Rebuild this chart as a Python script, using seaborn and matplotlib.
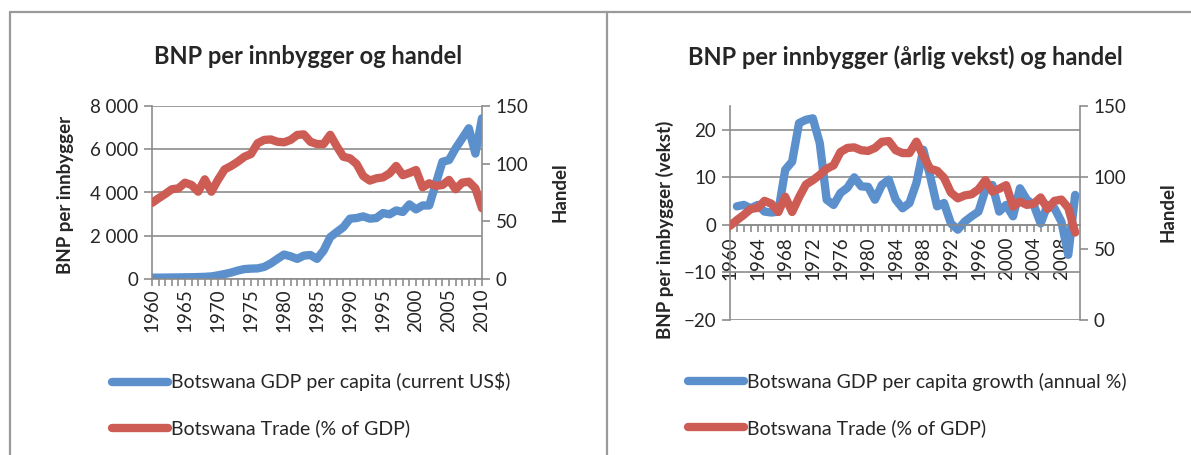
import numpy as np
import matplotlib
matplotlib.use('Agg')
import matplotlib.pyplot as plt
import seaborn as sns
from matplotlib.ticker import FuncFormatter, MultipleLocator
from matplotlib.lines import Line2D

# data
years = list(range(1960, 2011))

gdp_pc = [60, 62, 66, 70, 72, 78, 82, 90, 100, 120,
          170, 230, 300, 390, 460, 480, 490, 560, 720, 930,
          1130, 1050, 930, 1080, 1110, 930, 1315, 1935, 2170, 2400,
          2790, 2820, 2895, 2790, 2820, 3050, 2990, 3170, 3100, 3450,
          3220, 3400, 3400, 4410, 5420, 5500, 6040, 6500, 6970, 5800,
          7430]

growth = [np.nan, 3.9, 4.2, 3.5, 4.2, 2.8, 2.6, 2.8, 11.6, 13.3,
          21.4, 22.1, 22.4, 17.2, 5.3, 4.2, 6.7, 7.8, 10.0, 8.1,
          8.0, 5.3, 8.4, 9.5, 5.3, 3.5, 4.6, 8.8, 15.8, 10.2,
          3.9, 4.6, 0.3, -1.0, 0.7, 1.8, 2.8, 7.4, 8.4, 2.8,
          4.2, 1.8, 7.7, 5.3, 4.2, 0.3, 4.2, 3.5, 0.7, -6.3,
          6.3]

trade = [66, 70, 73.7, 77.8, 78.6, 83.5, 81.5, 75.7, 86.4, 75.7,
         86, 95, 98, 101.7, 106, 108.4, 117.7, 120.6, 121, 119,
         118.5, 120.6, 124.9, 125.4, 119, 117, 117, 125, 115, 106,
         104.6, 99.7, 89.3, 85.3, 87.3, 88.1, 91.6, 98, 90, 92,
         94.5, 79.5, 83, 80.7, 81.5, 85.9, 77.8, 83.5, 84.4, 78.6,
         61.3]

blue = '#5b90cc'
red = '#cd5c55'
gray = '#8c8c8c'

sns.set_style('white')
plt.rcParams['font.family'] = ['Lato', 'DejaVu Sans']

W, H = 1191, 455
fig = plt.figure(figsize=(W / 100, H / 100), dpi=100)


def box(x0, y0, x1, y1):
    return [x0 / W, 1 - y1 / H, (x1 - x0) / W, (y1 - y0) / H]


line_kw = dict(linewidth=6, solid_capstyle='round', solid_joinstyle='round')
tick_size = 13.5


def style_pair(ax, axr, xpad=2):
    for s in ['top', 'right']:
        ax.spines[s].set_visible(False)
    for s in ['top', 'left', 'bottom']:
        axr.spines[s].set_visible(False)
    for s in ['left', 'bottom']:
        ax.spines[s].set_color(gray)
        ax.spines[s].set_linewidth(1.2)
    axr.spines['right'].set_color(gray)
    axr.spines['right'].set_linewidth(1.2)
    ax.grid(axis='y', color=gray, linewidth=1.2)
    ax.grid(axis='x', visible=False)
    ax.tick_params(axis='y', direction='out', length=6, width=1.2, color=gray, labelsize=tick_size, pad=4)
    axr.tick_params(axis='y', direction='out', length=6, width=1.2, color=gray, labelsize=tick_size, pad=4)
    ax.tick_params(axis='x', which='both', direction='out', length=5, width=1.2, color=gray,
                   labelsize=tick_size, labelrotation=90, pad=xpad, bottom=True)
    for a in (ax, axr):
        a.set_xlabel('')
        a.set_ylabel('')


# left chart: GDP per capita and trade
ax1 = fig.add_axes(box(152, 106, 482, 279))
sns.lineplot(x=years, y=gdp_pc, ax=ax1, color=blue, legend=False, **line_kw)
ax1.set_xlim(1960, 2010)
ax1.set_ylim(0, 8000)
ax1.set_yticks(range(0, 8001, 2000))
ax1.yaxis.set_major_formatter(FuncFormatter(lambda v, p: f'{int(v):,}'.replace(',', ' ')))
ax1.set_xticks(range(1960, 2011, 5))
ax1.xaxis.set_minor_locator(MultipleLocator(1))
ax1r = ax1.twinx()
sns.lineplot(x=years, y=trade, ax=ax1r, color=red, legend=False, **line_kw)
ax1r.set_ylim(0, 150)
ax1r.set_yticks([0, 50, 100, 150])
style_pair(ax1, ax1r)

# right chart: GDP per capita growth and trade
ax2 = fig.add_axes(box(730, 106, 1080, 320))
sns.lineplot(x=years, y=growth, ax=ax2, color=blue, legend=False, **line_kw)
ax2.set_xlim(1960, 2010.7)
ax2.set_ylim(-20, 25)
ax2.set_yticks([-20, -10, 0, 10, 20])
ax2.set_xticks(range(1960, 2009, 4))
ax2.xaxis.set_minor_locator(MultipleLocator(1))
ax2.spines['bottom'].set_position(('data', 0))
ax2r = ax2.twinx()
sns.lineplot(x=years, y=trade, ax=ax2r, color=red, legend=False, **line_kw)
ax2r.set_ylim(0, 150)
ax2r.set_yticks([0, 50, 100, 150])
style_pair(ax2, ax2r, xpad=3)

# titles and axis labels
fig.text(308 / W, 1 - 57 / H, 'BNP per innbygger og handel', ha='center', va='center',
         fontsize=17, fontweight='bold')
fig.text(905 / W, 1 - 57 / H, 'BNP per innbygger (årlig vekst) og handel', ha='center', va='center',
         fontsize=17, fontweight='bold')
fig.text(66 / W, 1 - 195 / H, 'BNP per innbygger', rotation=90, ha='center', va='center',
         fontsize=13.5, fontweight='bold')
fig.text(560 / W, 1 - 192 / H, 'Handel', rotation=90, ha='center', va='center',
         fontsize=13.5, fontweight='bold')
fig.text(665 / W, 1 - 230 / H, 'BNP per innbygger (vekst)', rotation=90, ha='center', va='center',
         fontsize=13.5, fontweight='bold')
fig.text(1168 / W, 1 - 212 / H, 'Handel', rotation=90, ha='center', va='center',
         fontsize=13.5, fontweight='bold')


# legends
def legend_at(x, y, first_label):
    handles = [Line2D([], [], color=blue, linewidth=6, solid_capstyle='round'),
               Line2D([], [], color=red, linewidth=6, solid_capstyle='round')]
    fig.legend(handles, [first_label, 'Botswana Trade (% of GDP)'], loc='center left',
               bbox_to_anchor=(x / W, 1 - y / H), frameon=False, fontsize=14,
               handlelength=2.9, handletextpad=0.12, labelspacing=1.45,
               borderpad=0, borderaxespad=0)


legend_at(112, 405, 'Botswana GDP per capita (current US$)')
legend_at(688, 405, 'Botswana GDP per capita growth (annual %)')

# chart frames
frame_kw = dict(color='#9a9a9a', linewidth=1.6, transform=fig.transFigure)
fig.add_artist(Line2D([10 / W, 1], [1 - 12 / H, 1 - 12 / H], **frame_kw))
fig.add_artist(Line2D([10 / W, 10 / W], [0, 1 - 12 / H], **frame_kw))
fig.add_artist(Line2D([607 / W, 607 / W], [0, 1 - 12 / H], **frame_kw))

fig.savefig('out.png', dpi=100)
